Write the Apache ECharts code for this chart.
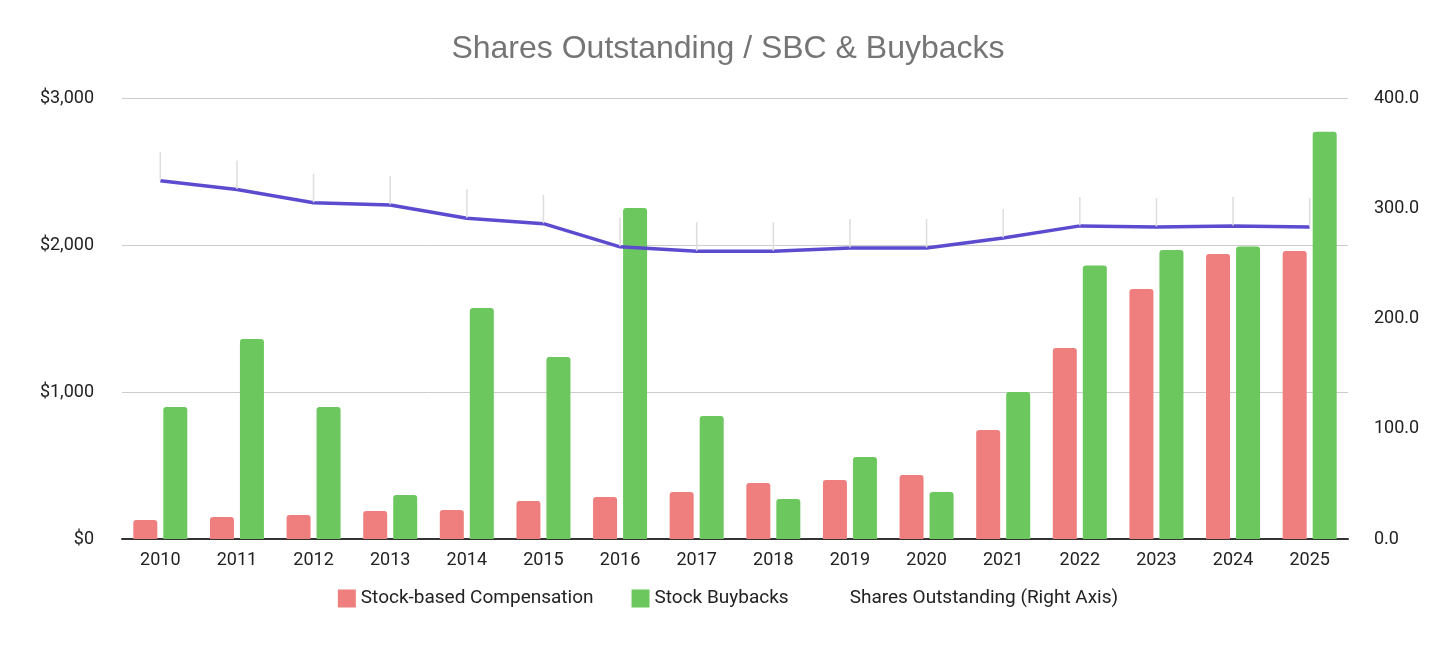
<!DOCTYPE html>
<html>
<head>
<meta charset="utf-8">
<script src="https://cdn.jsdelivr.net/npm/echarts@6/dist/echarts.min.js"></script>
<style>html,body{margin:0;padding:0;background:#fff}#chart{width:1456px;height:645px}</style>
</head>
<body>
<div id="chart"></div>
<script>
const years = ['2010','2011','2012','2013','2014','2015','2016','2017','2018','2019','2020','2021','2022','2023','2024','2025'];
const sbc = [130, 150, 163, 190, 197, 258, 286, 320, 381, 401, 435, 741, 1299, 1701, 1939, 1959];
const buybacks = [898, 1361, 898, 299, 1571, 1238, 2252, 837, 272, 558, 320, 1000, 1860, 1966, 1990, 2770];
const shares = [325, 317, 305, 303, 291, 286, 265, 261, 261, 264, 264, 273, 284, 283, 284, 283];

const chart = echarts.init(document.getElementById('chart'));
const font = 'Roboto, Arial, sans-serif';

chart.setOption({
  animation: false,
  textStyle: { fontFamily: font },
  title: {
    text: 'Shares Outstanding / SBC & Buybacks',
    left: 'center', top: 28,
    textStyle: { fontSize: 32, fontWeight: 'normal', color: '#757575', fontFamily: '"Liberation Sans", Arial, sans-serif' }
  },
  legend: {
    bottom: 32, itemGap: 38, itemWidth: 18, itemHeight: 18,
    textStyle: { fontSize: 19, color: '#222' },
    data: [
      { name: 'Stock-based Compensation', icon: 'rect' },
      { name: 'Stock Buybacks', icon: 'rect' },
      { name: 'Shares Outstanding (Right Axis)', icon: 'rect', itemStyle: { color: '#5b4ccf' } }
    ]
  },
  grid: { left: 122, right: 108, top: 98, bottom: 106 },
  xAxis: {
    type: 'category', data: years,
    axisLine: { lineStyle: { color: '#333', width: 2 } },
    axisTick: { show: false },
    axisLabel: { fontSize: 18, color: '#222', margin: 12 }
  },
  yAxis: [
    {
      type: 'value', min: 0, max: 3000, interval: 1000,
      axisLabel: { fontSize: 18, color: '#222', formatter: v => '$' + v.toLocaleString('en-US'), margin: 28 },
      splitLine: { lineStyle: { color: '#cccccc' } }
    },
    {
      type: 'value', min: 0, max: 400, interval: 100,
      axisLabel: { fontSize: 18, color: '#222', formatter: v => v.toFixed(1), margin: 26 },
      splitLine: { show: false }
    }
  ],
  series: [
    {
      name: 'Stock-based Compensation', type: 'bar', data: sbc,
      barWidth: 24, barGap: '25%',
      itemStyle: { color: '#ef7f7f', borderRadius: [3, 3, 0, 0] }
    },
    {
      name: 'Stock Buybacks', type: 'bar', data: buybacks,
      barWidth: 24,
      itemStyle: { color: '#6cc85e', borderRadius: [3, 3, 0, 0] }
    },
    {
      name: 'Shares Outstanding (Right Axis)', type: 'line', yAxisIndex: 1, data: shares,
      symbol: 'circle', symbolSize: 1, showSymbol: true, z: 5,
      lineStyle: { color: '#5b4ccf', width: 3.5 },
      itemStyle: { color: '#5b4ccf', opacity: 0 },
      label: {
        show: true, position: 'top', distance: 2, fontSize: 18, color: '#4a3fc0',
        textBorderColor: '#fff', textBorderWidth: 3
      },
      labelLayout: { dy: -28 },
      labelLine: { show: true, lineStyle: { color: '#dddddd', width: 1.5 } }
    }
  ]
});
</script>
</body>
</html>
